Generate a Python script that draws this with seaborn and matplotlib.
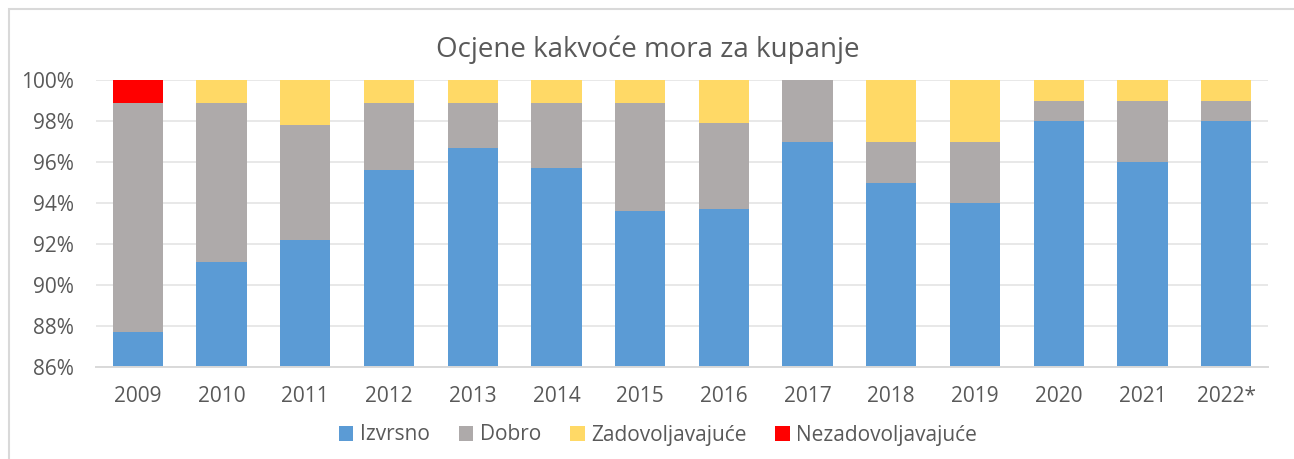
import matplotlib
matplotlib.use("Agg")
import matplotlib.pyplot as plt
from matplotlib.patches import Rectangle, Patch
from matplotlib.ticker import FixedLocator, FuncFormatter
import numpy as np
import pandas as pd
import seaborn as sns

years = ["2009", "2010", "2011", "2012", "2013", "2014", "2015",
         "2016", "2017", "2018", "2019", "2020", "2021", "2022*"]
izvrsno = [87.7, 91.1, 92.2, 95.6, 96.7, 95.7, 93.6, 93.7, 97.0, 95.0, 94.0, 98.0, 96.0, 98.0]
dobro = [11.2, 7.8, 5.6, 3.3, 2.2, 3.2, 5.3, 4.2, 3.0, 2.0, 3.0, 1.0, 3.0, 1.0]
zadovoljavajuce = [0.0, 1.1, 2.2, 1.1, 1.1, 1.1, 1.1, 2.1, 0.0, 3.0, 3.0, 1.0, 1.0, 1.0]
nezadovoljavajuce = [1.1, 0.0, 0.0, 0.0, 0.0, 0.0, 0.0, 0.0, 0.0, 0.0, 0.0, 0.0, 0.0, 0.0]

series_names = ["Izvrsno", "Dobro", "Zadovoljavajuće", "Nezadovoljavajuće"]
series_colors = ["#5B9BD5", "#AEAAAA", "#FFD966", "#FF0000"]
y_ticks = [86, 88, 90, 92, 94, 96, 98, 100]

sns.set_theme(style="white")
plt.rcParams["font.family"] = ["Open Sans", "DejaVu Sans"]

text_color = "#595959"

fig = plt.figure(figsize=(12.94, 4.59), dpi=100)
ax = fig.add_axes([96 / 1294, 1 - 367 / 459, (1268 - 96) / 1294, (367 - 80) / 459])

df = pd.DataFrame({
    "year": years,
    "Izvrsno": izvrsno,
    "Dobro": dobro,
    "Zadovoljavajuće": zadovoljavajuce,
    "Nezadovoljavajuće": nezadovoljavajuce,
})

# Stacked bars: draw cumulative totals from the top layer down so that each
# lower segment covers the part of the one beneath it.
cumulative = df[series_names].cumsum(axis=1)
for name, color in reversed(list(zip(series_names, series_colors))):
    sns.barplot(x=df["year"], y=cumulative[name], color=color, width=0.6,
                linewidth=0, saturation=1, ax=ax, zorder=3)

ax.set_ylim(86, 100)
ax.set_xlim(-0.5, len(years) - 0.5)
ax.yaxis.set_major_locator(FixedLocator(y_ticks))
ax.yaxis.set_major_formatter(FuncFormatter(lambda v, _: f"{v:.0f}%"))
ax.grid(axis="y", color="#E8E8E8", linewidth=1.4, zorder=0)
ax.set_axisbelow(True)
ax.set_xlabel("")
ax.set_ylabel("")

for side in ["top", "right", "left"]:
    ax.spines[side].set_visible(False)
ax.spines["bottom"].set_color("#D9D9D9")
ax.spines["bottom"].set_linewidth(1.4)
ax.spines["bottom"].set_zorder(4)

ax.tick_params(axis="both", length=0, labelsize=15, labelcolor=text_color)
ax.tick_params(axis="y", pad=16)
ax.tick_params(axis="x", pad=14)

fig.text(648 / 1294, 1 - 50 / 459, "Ocjene kakvoće mora za kupanje",
         ha="center", va="center", fontsize=20, color=text_color)

handles = [Patch(facecolor=c, edgecolor="none", label=n)
           for n, c in zip(series_names, series_colors)]
fig.legend(handles=handles, loc="center", bbox_to_anchor=(658 / 1294, 1 - 435 / 459),
           ncol=4, frameon=False, fontsize=15, labelcolor=text_color,
           handlelength=0.7, handleheight=0.7, handletextpad=0.3, columnspacing=1.4)

# Chart area frame
fig.patches.append(Rectangle((9 / 1294, -0.1), 1.2, 1.1 - 9 / 459,
                             transform=fig.transFigure, fill=False,
                             edgecolor="#D9D9D9", linewidth=1.5))

fig.savefig("out.png", dpi=100)
